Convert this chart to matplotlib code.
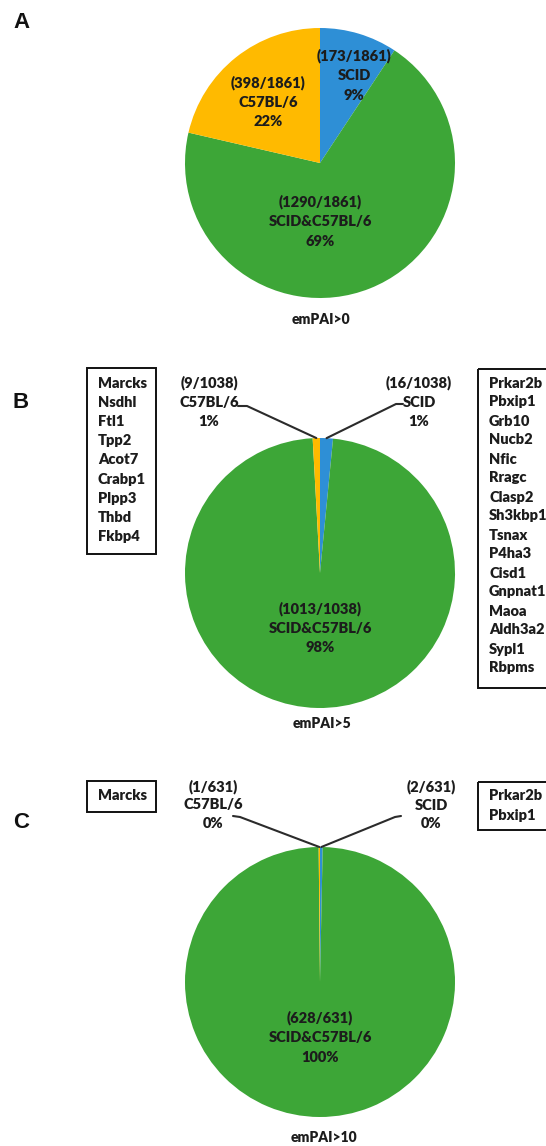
import matplotlib.pyplot as plt
from matplotlib.patches import Rectangle
import numpy as np

W, H = 546, 1146

# slice order, clockwise from 12 o'clock
groups = ['SCID', 'SCID&C57BL/6', 'C57BL/6']
colors = ['#2E8FD6', '#3DA637', '#FFBA00']

totals = [1861, 1038, 631]
counts_a = [173, 1290, 398]   # emPAI>0
counts_b = [16, 1013, 9]      # emPAI>5
counts_c = [2, 628, 1]        # emPAI>10
pct_a = ['9%', '69%', '22%']
pct_b = ['1%', '98%', '1%']
pct_c = ['0%', '100%', '0%']
titles = ['emPAI>0', 'emPAI>5', 'emPAI>10']
panel_letters = ['A', 'B', 'C']

genes_b_c57 = ['Marcks', 'Nsdhl', 'Ftl1', 'Tpp2', 'Acot7', 'Crabp1', 'Plpp3', 'Thbd', 'Fkbp4']
genes_b_scid = ['Prkar2b', 'Pbxip1', 'Grb10', 'Nucb2', 'Nfic', 'Rragc', 'Clasp2', 'Sh3kbp1',
                'Tsnax', 'P4ha3', 'Cisd1', 'Gnpnat1', 'Maoa', 'Aldh3a2', 'Sypl1', 'Rbpms']
genes_c_c57 = ['Marcks']
genes_c_scid = ['Prkar2b', 'Pbxip1']

FONT = ['Lato', 'DejaVu Sans']
TXT = '#1c1c1c'
R = 135

fig = plt.figure(figsize=(W / 100, H / 100), dpi=100)
ax = fig.add_axes([0, 0, 1, 1])


def lbl(x, y, s, size=10.5, **kw):
    ax.text(x, y, s, fontsize=size, fontweight='heavy', family=FONT, color=TXT,
            ha=kw.pop('ha', 'center'), va='center', **kw)


def draw_pie(counts, cx, cy):
    # y axis runs downward, so counterclock in data is clockwise on screen
    ax.pie(counts, colors=colors, startangle=-90, counterclock=True,
           radius=R, center=(cx, cy), frame=True,
           wedgeprops=dict(linewidth=0))


def edge_point(counts, idx, cx, cy):
    c = np.cumsum([0] + list(counts))
    frac = (c[idx] + counts[idx] / 2) / c[-1]
    a = 2 * np.pi * frac
    return cx + R * np.sin(a), cy - R * np.cos(a)


def label_block(x, y, lines, step=19.5):
    for i, s in enumerate(lines):
        lbl(x, y + i * step, s)


def gene_box(x0, x1, y0, y1, genes, ty, step=19.2):
    ax.add_patch(Rectangle((x0, y0), x1 - x0, y1 - y0, fill=False,
                           lw=1.4, ec='#111111', clip_on=False))
    for i, g in enumerate(genes):
        lbl(x0 + 11, ty + i * step, g, ha='left')


def leader(pts, end):
    xs = [p[0] for p in pts] + [end[0]]
    ys = [p[1] for p in pts] + [end[1]]
    ax.plot(xs, ys, color='#2b2b2b', lw=1.5, solid_capstyle='round')


# --- A ---
cx, cy = 320, 163
draw_pie(counts_a, cx, cy)
label_block(354, 56, ['(%d/%d)' % (counts_a[0], totals[0]), groups[0], pct_a[0]])
label_block(268, 83, ['(%d/%d)' % (counts_a[2], totals[0]), groups[2], pct_a[2]])
label_block(320, 202, ['(%d/%d)' % (counts_a[1], totals[0]), groups[1], pct_a[1]])
lbl(321, 320, titles[0], size=10)

# --- B ---
cx, cy = 320, 573
draw_pie(counts_b, cx, cy)
label_block(209, 383, ['(%d/%d)' % (counts_b[2], totals[1]), groups[2], pct_b[2]])
label_block(419, 383, ['(%d/%d)' % (counts_b[0], totals[1]), groups[0], pct_b[0]])
label_block(320, 609, ['(%d/%d)' % (counts_b[1], totals[1]), groups[1], pct_b[1]])
leader([(238, 406), (247, 406)], edge_point(counts_b, 2, cx, cy))
leader([(403, 404), (396, 404)], edge_point(counts_b, 0, cx, cy))
gene_box(87, 156, 368, 554, genes_b_c57, 383)
gene_box(478, 560, 369, 688, genes_b_scid, 383, step=19.0)
lbl(322, 724, titles[1], size=10)

# --- C ---
cx, cy = 320, 982
draw_pie(counts_c, cx, cy)
label_block(213, 787, ['(%d/%d)' % (counts_c[2], totals[2]), groups[2], pct_c[2]], step=18)
label_block(431, 787, ['(%d/%d)' % (counts_c[0], totals[2]), groups[0], pct_c[0]], step=18)
label_block(320, 1018, ['(%d/%d)' % (counts_c[1], totals[2]), groups[1], pct_c[1]])
leader([(233, 816), (240, 817)], edge_point(counts_c, 2, cx, cy))
leader([(401, 816), (395, 817)], edge_point(counts_c, 0, cx, cy))
gene_box(87, 156, 781, 812, genes_c_c57, 796)
gene_box(478, 560, 782, 830, genes_c_scid, 796, step=19.0)
lbl(324, 1138, titles[2], size=10)

for letter, y in zip(panel_letters, [23, 402, 822]):
    ax.text(21, y, letter, fontsize=16, fontweight='bold',
            family=['Liberation Sans', 'DejaVu Sans'], color='#111111',
            ha='center', va='center')

ax.set_xlim(0, W)
ax.set_ylim(H, 0)
ax.set_aspect('auto')
ax.axis('off')

fig.savefig('out.png', dpi=100)
